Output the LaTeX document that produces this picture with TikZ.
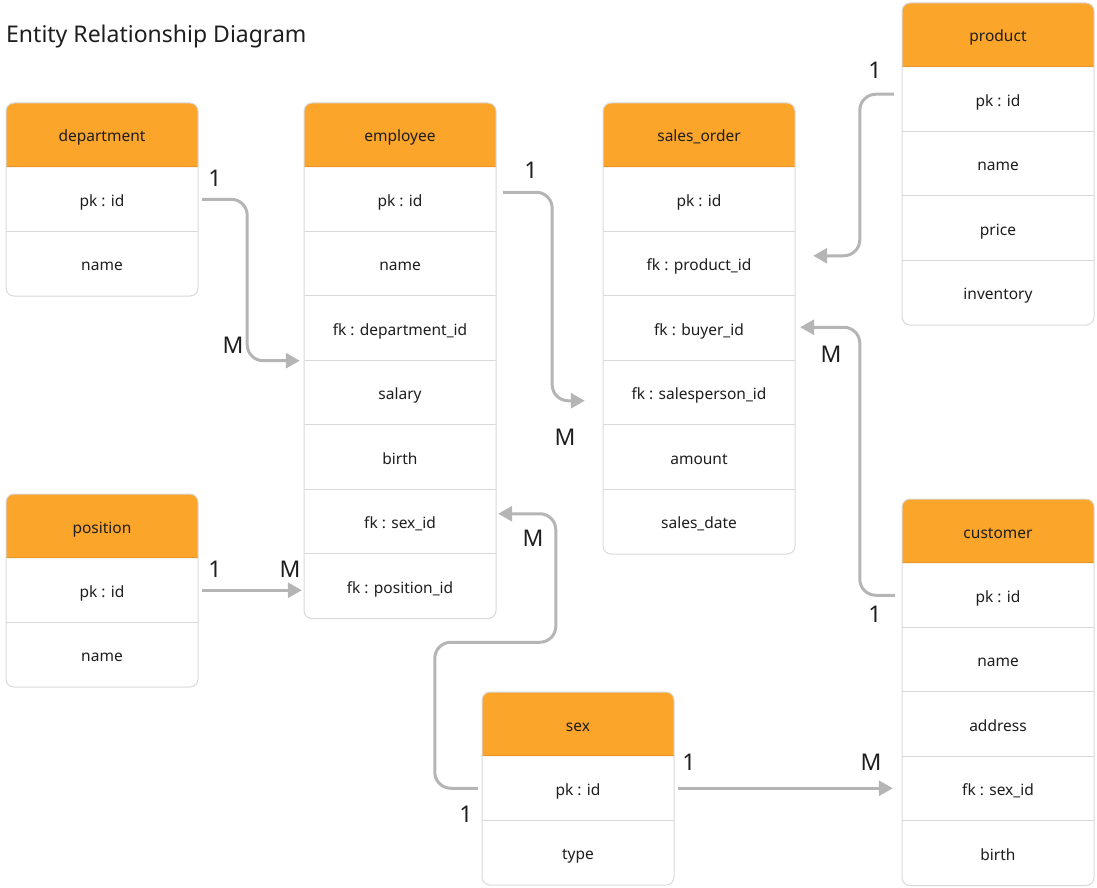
\documentclass[tikz,border=0pt]{standalone}
\usepackage{fontspec}
\setmainfont{Noto Sans}
\usetikzlibrary{arrows.meta}
\definecolor{hdrorange}{HTML}{FBA52B}
\definecolor{hdrline}{HTML}{E8952A}
\definecolor{edgegray}{HTML}{D9D9D9}
\definecolor{conngray}{HTML}{B5B5B5}
\definecolor{ink}{HTML}{1E1E1E}
\tikzset{
  hdrtext/.style={font=\fontsize{15.5}{18}\selectfont, text=ink, inner sep=0pt, text height=14pt, text depth=0pt, minimum width=192pt, minimum height=64pt},
  rowtext/.style={font=\fontsize{15.5}{18}\selectfont, text=ink, inner sep=0pt, text height=14pt, text depth=0pt, minimum width=192pt, minimum height=64.5pt},
  card/.style={draw=edgegray, line width=1pt, rounded corners=8pt},
  sep/.style={draw=edgegray, line width=1pt},
  conn/.style={draw=conngray, line width=3pt, rounded corners=16pt, -{Triangle[length=14pt,width=15pt]}},
  card label/.style={font=\fontsize{23}{26}\selectfont, text=ink, inner sep=0pt},
}
\newcommand\ertable[6]{%
  \fill[white, rounded corners=8pt] (#2,#3) rectangle ++(192,64+#5*64.5);
  \fill[hdrorange] (#2,#3+64) [rounded corners=8pt] -- (#2,#3) -- (#2+192,#3) [sharp corners] -- (#2+192,#3+64) -- cycle;
  \node[hdrtext] (#1-h) at (#2+96,#3+32) {#4};
  \foreach \r [count=\i] in {#6} {
    \node[rowtext] (#1-\i) at (#2+96,#3+64+\i*64.5-32.25) {\r};
    \ifnum\i>1 \draw[sep] (#1-\i.north west) -- (#1-\i.north east);\fi
  }
  \draw[hdrline, line width=1pt] (#1-1.north west) -- (#1-1.north east);
  \draw[card] (#2,#3) rectangle ++(192,64+#5*64.5);
}
\begin{document}
\begin{tikzpicture}[x=1pt,y=-1pt]
\useasboundingbox (0,0) rectangle (1097,888);
\node[anchor=base west, font=\fontsize{23}{27}\selectfont, text=ink, inner sep=0pt] (title) at (6,43) {Entity Relationship Diagram};

\ertable{dept}{6}{103}{department}{2}{pk : id, name}
\ertable{emp}{304}{103}{employee}{7}{pk : id, name, fk : department\_id, salary, birth, fk : sex\_id, fk : position\_id}
\ertable{sales}{603}{103}{sales\_order}{6}{pk : id, fk : product\_id, fk : buyer\_id, fk : salesperson\_id, amount, sales\_date}
\ertable{prod}{902}{3}{product}{4}{pk : id, name, price, inventory}
\ertable{pos}{6}{494}{position}{2}{pk : id, name}
\ertable{sex}{482}{692}{sex}{2}{pk : id, type}
\ertable{cust}{902}{499}{customer}{5}{pk : id, name, address, fk : sex\_id, birth}

% connectors
\draw[conn, shorten <=4pt, shorten >=4pt] (dept-1.east) -- ++(49,0) |- (emp-3.south west);
\draw[conn, shorten <=7pt, shorten >=18pt] ([yshift=7pt]emp-1.east) -- ++(56,0) |- ([yshift=-8pt]sales-4.west);
\draw[conn, shorten <=8pt, shorten >=18pt] ([yshift=5pt]prod-1.west) -- ++(-42,0) |- ([yshift=8pt]sales-2.east);
\draw[conn, shorten <=7pt, shorten >=5pt] (cust-1.west) -- ++(-42,0) |- ([yshift=1pt]sales-3.east);
\draw[conn, shorten <=4pt, shorten >=2pt] (sex-1.west) -- ++(-47,0) -- ++(0,-146) -- ++(121,0) |- ([yshift=8pt]emp-6.east);
\draw[conn, shorten <=4pt, shorten >=2pt] (pos-1.east) -- (emp-7.west |- pos-1.east);
\draw[conn, shorten <=4pt, shorten >=9pt] (sex-1.east) -- (cust-4.west |- sex-1.east);

% cardinality labels
\node[card label] (l1) at (215,178) {1};
\node[card label] (l2) at (233,345) {M};
\node[card label] (l3) at (531,170) {1};
\node[card label] (l4) at (565,437) {M};
\node[card label] (l5) at (875,70) {1};
\node[card label] (l6) at (831,354) {M};
\node[card label] (l7) at (875,614) {1};
\node[card label] (l8) at (533,538) {M};
\node[card label] (l9) at (466,814) {1};
\node[card label] (l10) at (215,569) {1};
\node[card label] (l11) at (290,569) {M};
\node[card label] (l12) at (689,762) {1};
\node[card label] (l13) at (871,762) {M};
\end{tikzpicture}
\end{document}
